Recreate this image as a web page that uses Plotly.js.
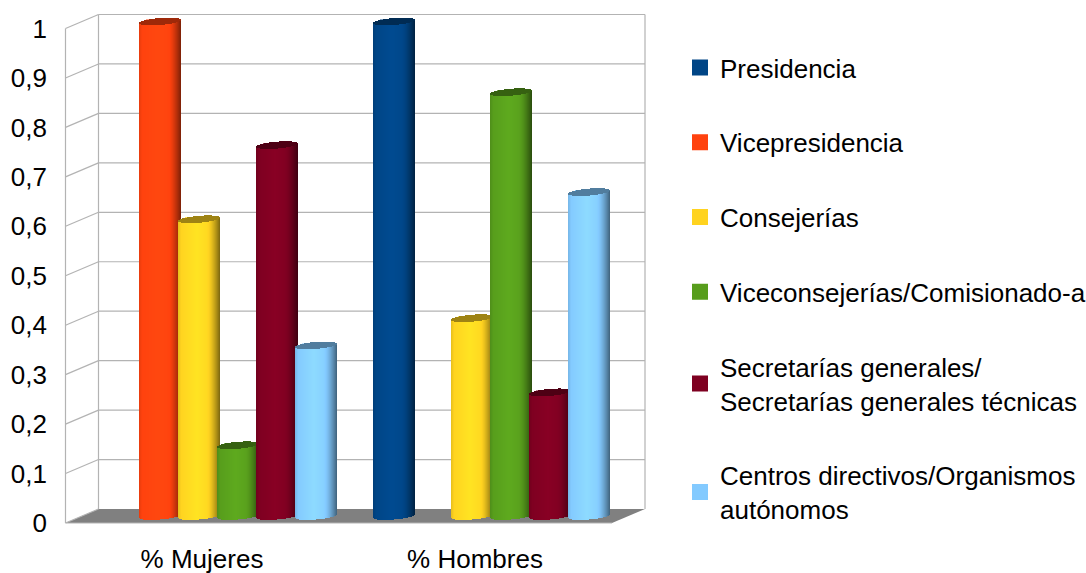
<!DOCTYPE html>
<html>
<head>
<meta charset="utf-8">
<script src="https://cdn.plot.ly/plotly-3.0.1.min.js"></script>
<style>html,body{margin:0;padding:0;background:#fff;overflow:hidden}</style>
</head>
<body>
<div id="chart" style="width:1086px;height:573px"></div>
<script>
// ---- data ----
const categories = ['% Mujeres', '% Hombres'];
const seriesNames = ['Presidencia', 'Vicepresidencia', 'Consejerías', 'Viceconsejerías/Comisionado-a',
  'Secretarías generales/<br>Secretarías generales técnicas', 'Centros directivos/Organismos<br>autónomos'];
const presidencia = [0, 1];
const vicepresidencia = [1, 0];
const consejerias = [0.6, 0.4];
const viceconsejerias = [0.143, 0.857];
const secretarias = [0.75, 0.25];
const centros = [0.345, 0.655];
const seriesValues = [presidencia, vicepresidencia, consejerias, viceconsejerias, secretarias, centros];
const seriesColors = ['#004586', '#ff420e', '#ffd320', '#579d1c', '#7e0021', '#83caff'];
const yTicks = [0, 0.1, 0.2, 0.3, 0.4, 0.5, 0.6, 0.7, 0.8, 0.9, 1];

// ---- 3D look geometry (pixels per data unit on the axes) ----
const W = 1086, H = 573;
const plotL = 62, plotR = 650, plotT = 10, plotB = 526;
const frontL = 65.5, frontB = 523;
const kx = 273, ky = 494.5;
const xMin = -0.5 - (frontL - plotL) / kx, xMax = xMin + (plotR - plotL) / kx;
const yMin = -(plotB - frontB) / ky, yMax = yMin + (plotB - plotT) / ky;
const depthX = 33 / kx, depthY = 14 / ky;
const slot = 1 / 7;
const radX = 21 / kx, radY = 3.5 / ky, tilt = 1.7 / ky;
const stripCount = 42;

function rgb(hex) { return [1, 3, 5].map(i => parseInt(hex.substr(i, 2), 16)); }
function shade(hex, u) {
  const c = rgb(hex);
  let f = 1.08 - 0.08 * Math.min(1, Math.abs(u + 0.1) / 0.8);
  if (u > 0.4) f = 1.02 - 0.54 * Math.pow((u - 0.4) / 0.6, 1.4);
  if (u < -0.85) f = 1 - 0.1 * (-0.85 - u) / 0.15;
  return 'rgb(' + c.map(v => Math.min(255, Math.round(v * f))).join(',') + ')';
}
function darker(hex, f) { return 'rgb(' + rgb(hex).map(v => Math.round(v * f)).join(',') + ')'; }

const traces = [];
seriesValues.forEach((vals, k) => {
  const centers = categories.map((_, g) => g + (k - 2.5) * slot + depthX / 2);
  // the bar itself, carrying the legend entry (a zero value draws no bar)
  traces.push({
    type: 'bar', name: seriesNames[k], legendgroup: 'g' + k,
    x: centers, y: vals.map(v => v || null), base: vals.map(() => depthY / 2),
    width: vals.map(() => 24 / kx),
    marker: {color: seriesColors[k], line: {width: 4, color: seriesColors[k]}},
    hoverinfo: 'skip', showlegend: true
  });
  // cylinder shading and cap as thin slices
  const sx = [], sy = [], sb = [], sc = [], sw = [];
  vals.forEach((v, g) => {
    if (!v) return;
    for (let i = 0; i < stripCount; i++) {
      const u = -1 + (2 * i + 1) / stripCount;
      const root = Math.sqrt(1 - u * u);
      const xs = centers[g] + u * radX;
      const bottom = depthY / 2 + u * tilt - radY * root;
      const mid = depthY / 2 + v + u * tilt - radY * root;
      const top = depthY / 2 + v + u * tilt + radY * root;
      sx.push(xs); sb.push(bottom); sy.push(mid - bottom);
      sc.push(shade(seriesColors[k], u)); sw.push(1.25 / kx);
      sx.push(xs); sb.push(mid); sy.push(top - mid);
      sc.push(darker(seriesColors[k], 0.62)); sw.push(1.25 / kx);
    }
  });
  traces.push({
    type: 'bar', legendgroup: 'g' + k, showlegend: false, hoverinfo: 'skip',
    x: sx, y: sy, base: sb, width: sw,
    marker: {color: sc, line: {width: 0}}
  });
});

// ---- walls, floor and grid ----
const gridColor = '#b3b3b3';
const wallBack = xMax - (plotR - 645) / kx;
const wallFrontRight = wallBack - depthX;
const xFront = xMin + (frontL - plotL) / kx, xBack = xFront + depthX;
function line(x0, y0, x1, y1) {
  return {type: 'line', layer: 'below', xref: 'x', yref: 'y', x0, y0, x1, y1,
    line: {color: gridColor, width: 1.2}};
}
const shapes = [{
  type: 'path', layer: 'below', xref: 'x', yref: 'y',
  path: 'M' + xFront + ',0L' + xBack + ',' + depthY + 'L' + wallBack + ',' + depthY + 'L' + wallFrontRight + ',0Z',
  fillcolor: '#808080', line: {width: 0}
}];
yTicks.forEach(t => {
  shapes.push(line(xFront, t, xBack, t + depthY));
  if (t > 0) shapes.push(line(xBack, t + depthY, wallBack, t + depthY));
});
shapes.push(line(xFront, 0, xFront, 1));
shapes.push(line(xBack, depthY, xBack, 1 + depthY));
shapes.push(line(wallBack, depthY, wallBack, 1 + depthY));
shapes.push(line(xFront, 0, wallFrontRight, 0));

const font = {family: '"Liberation Sans", Arial, sans-serif', size: 26, color: '#000'};
const layout = {
  width: W, height: H,
  paper_bgcolor: '#fff', plot_bgcolor: 'rgba(0,0,0,0)',
  font: font, separators: ',.',
  barmode: 'overlay', bargap: 0,
  margin: {l: plotL, r: W - plotR, t: plotT, b: H - plotB, pad: 0, autoexpand: false},
  xaxis: {
    range: [xMin, xMax], tickmode: 'array', tickvals: categories.map((_, g) => g), ticktext: categories,
    showgrid: false, zeroline: false, showline: false, ticks: '', tickfont: font, ticklabelstandoff: 15
  },
  yaxis: {
    range: [yMin, yMax], tickmode: 'array', tickvals: yTicks, ticktext: yTicks.map(t => String(t).replace('.', ',')),
    showgrid: false, zeroline: false, showline: false, ticks: '', tickfont: font, ticklabelstandoff: 14
  },
  legend: {
    x: 684 / W, y: 1 - 44 / H, xanchor: 'left', yanchor: 'top', xref: 'container', yref: 'container',
    bgcolor: 'rgba(0,0,0,0)', borderwidth: 0, font: font, tracegroupgap: 38, itemwidth: 30, indentation: -4,
    traceorder: 'grouped', itemclick: false, itemdoubleclick: false, maxheight: 573
  },
  shapes: shapes,
  showlegend: true
};
Plotly.newPlot('chart', traces, layout, {displayModeBar: false, staticPlot: true});
</script>
</body>
</html>
